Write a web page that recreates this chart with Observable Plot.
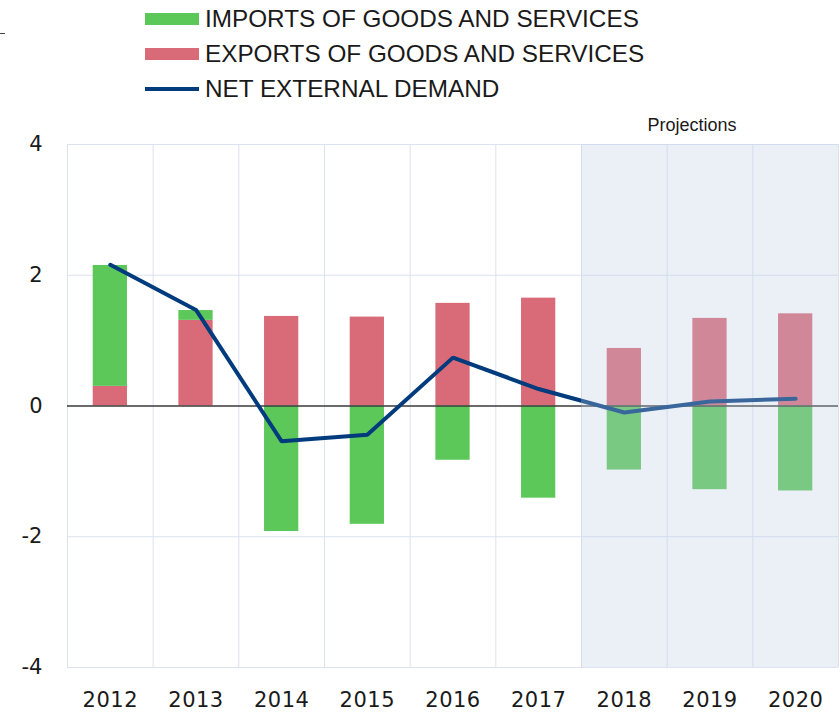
<!DOCTYPE html>
<html>
<head>
<meta charset="utf-8">
<script src="https://cdn.jsdelivr.net/npm/d3@7"></script>
<script src="https://cdn.jsdelivr.net/npm/@observablehq/plot@0.6"></script>
<style>
  html, body { margin: 0; padding: 0; background: #fff; }
  body { width: 840px; height: 714px; overflow: hidden; font-family: "Liberation Sans", Arial, sans-serif; color: #1a1a1a; }
  #legend { position: relative; height: 110px; }
  .row { position: absolute; left: 145px; height: 30px; display: flex; align-items: center; font-size: 24.3px; white-space: nowrap; }
  .sw { width: 54px; height: 12px; margin-right: 6px; }
  .ln { width: 54px; height: 4px; margin-right: 6px; }
  .dash { position: absolute; left: 0; top: 33px; width: 5px; height: 1px; background: #444; }
  #chart svg { display: block; }
  g[aria-label="x-axis tick label"] text, g[aria-label="y-axis tick label"] text { font-family: "DejaVu Sans", sans-serif; }
  g[aria-label="x-axis tick label"] text { letter-spacing: 0.5px; }
</style>
</head>
<body>
<div id="legend"><div class="dash"></div></div>
<div id="chart"></div>
<script>
// ---- data ----
const years   = [2012, 2013, 2014, 2015, 2016, 2017, 2018, 2019, 2020];
const exportsV = [0.30, 1.31, 1.37, 1.36, 1.57, 1.65, 0.88, 1.34, 1.41];
const importsV = [1.85, 0.15, -1.92, -1.81, -0.83, -1.41, -0.98, -1.28, -1.30];
const netV     = [2.16, 1.47, -0.54, -0.44, 0.74, 0.26, -0.10, 0.07, 0.11];
const yTicks   = [-4, -2, 0, 2, 4];
const projectionStart = 2018;
const seriesNames = ["IMPORTS OF GOODS AND SERVICES", "EXPORTS OF GOODS AND SERVICES", "NET EXTERNAL DEMAND"];

// ---- styles ----
const cGreen = "#5cc85a", cRed = "#d96b78", cNavy = "#003c7d";
const gridColor = "#dde2f0";

// legend
const legend = document.getElementById("legend");
const legendItems = [
  {name: seriesNames[0], color: cGreen, kind: "sw", top: 4},
  {name: seriesNames[1], color: cRed, kind: "sw", top: 39},
  {name: seriesNames[2], color: cNavy, kind: "ln", top: 74}
];
legendItems.forEach(it => {
  const r = document.createElement("div");
  r.className = "row";
  r.style.top = it.top + "px";
  const s = document.createElement("div");
  s.className = it.kind;
  s.style.background = it.color;
  r.appendChild(s);
  const t = document.createElement("span");
  t.textContent = it.name;
  r.appendChild(t);
  legend.appendChild(r);
});

// table
const bars = [];
years.forEach((y, i) => bars.push({year: y, series: "exp", value: exportsV[i]}));
years.forEach((y, i) => bars.push({year: y, series: "imp", value: importsV[i]}));
const net = years.map((y, i) => ({year: y, value: netV[i]}));
const bounds = [years[0] - 0.5, ...years.map(y => y + 0.5)];
const halfBar = 0.2;

const chart = Plot.plot({
  width: 840,
  height: 604,
  marginTop: 34,
  marginBottom: 47,
  marginLeft: 67,
  marginRight: 2,
  style: {fontFamily: "'Liberation Sans', Arial, sans-serif", color: "#1a1a1a", background: "transparent"},
  x: {domain: [years[0] - 0.5, years[years.length - 1] + 0.5], label: null},
  y: {domain: [-4, 4], label: null},
  color: {domain: ["exp", "imp"], range: [cRed, cGreen]},
  marks: [
    Plot.gridY({ticks: yTicks.filter(t => t !== 0), stroke: gridColor, strokeOpacity: 1}),
    Plot.ruleX(bounds, {stroke: gridColor, y1: -4, y2: 4}),
    Plot.rectY(bars, {x1: d => d.year - halfBar, x2: d => d.year + halfBar, y: "value", fill: "series", z: "series", order: null}),
    Plot.ruleY([0], {stroke: "#3a3a3a", strokeWidth: 1.3}),
    Plot.line(net, {x: "year", y: "value", stroke: cNavy, strokeWidth: 4, strokeLinejoin: "miter"}),
    Plot.rect([projectionStart], {x1: d => d - 0.5, x2: years[years.length - 1] + 0.5, y1: -4, y2: 4, fill: "#bccde4", fillOpacity: 0.3}),
    Plot.text(["Projections"], {x: 2019, y: 4, dy: -19, dx: -18, fontSize: 18, fill: "#1a1a1a"}),
    Plot.axisY({ticks: yTicks, tickSize: 0, tickPadding: 25, fontSize: 21, tickFormat: d => String(d), label: null}),
    Plot.axisX({ticks: years, tickSize: 0, tickPadding: 25, fontSize: 21, tickFormat: d => String(d), label: null})
  ]
});
document.getElementById("chart").appendChild(chart);
</script>
</body>
</html>
